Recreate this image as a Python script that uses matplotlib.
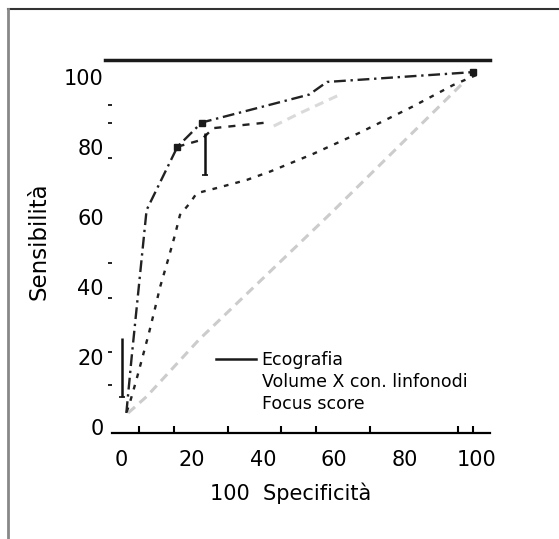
"""
ROC curves: Ecografia vs Volume X con. linfonodi vs Focus score.
Saves out.png (~559x539).
"""
import matplotlib
matplotlib.use("Agg")
import matplotlib.pyplot as plt
from matplotlib.lines import Line2D

# --- data (x = 100 - specificita, y = sensibilita) ---
eco_x = [-4.5, 104.0]
eco_y = [104.9, 104.9]

volume_x = [1.5, 3.0, 4.5, 7.2, 15.9, 22.7, 53.0, 58.0, 99.0]
volume_y = [4.0, 20.0, 35.0, 62.0, 80.1, 87.0, 95.0, 98.6, 101.4]

volume_alt_x = [15.9, 22.5, 26.0, 41.0]
volume_alt_y = [80.1, 82.0, 85.4, 87.0]

focus_x = [1.6, 2.5, 4.2, 5.8, 7.9, 9.6, 11.0, 13.3, 15.2, 16.6, 19.4, 21.3, 27.0,
           35.4, 42.0, 54.0, 67.0, 82.0, 93.5, 101.0]
focus_y = [4.3, 7.0, 13.0, 19.0, 27.0, 34.0, 40.0, 48.0, 54.9, 60.6, 64.0, 66.8, 68.3,
           70.6, 73.0, 78.0, 84.0, 91.5, 97.7, 101.0]

diag_x = [2.0, 7.2, 22.0, 59.0, 75.0, 97.0]
diag_y = [4.0, 8.7, 25.0, 61.0, 77.0, 99.0]

faint_x = [43.0, 50.4, 61.7]
faint_y = [86.0, 89.7, 95.0]

marker_x = [15.9, 22.7, 99.0]
marker_y = [80.1, 87.0, 101.4]

# vertical bars: (x, low, high)
bars = [(23.7, 72.0, 84.0), (0.2, 8.6, 25.4)]

x_ticks = [0, 20, 40, 60, 80, 100]
x_labels = ["0", "20", "40", "60", "80", "100"]
x_minor = [5, 15, 20, 30, 45, 55, 70, 95, 99]
y_ticks = [0, 20, 40, 60, 80, 100]
y_labels = ["0", "20", "40", "60", "80", "100"]
y_minor = [12, 21.5, 37, 47, 77, 87, 92]

legend_labels = ["Ecografia", "Volume X con. linfonodi", "Focus score"]

W, H = 559, 539
fig = plt.figure(figsize=(W / 100, H / 100), dpi=100)
ax = fig.add_axes([112 / W, 1 - 433 / H, (490 - 112) / W, (433 - 55) / H])
ax.set_xlim(-2.54, 103.9)
ax.set_ylim(-1.71, 106.3)

ax.plot(diag_x, diag_y, color="#cccccc", lw=2.2, ls=(0, (3, 2)))
ax.plot(faint_x, faint_y, color="#dadada", lw=2.2, ls=(0, (3, 2)))
ax.plot(eco_x, eco_y, color="#1a1a1a", lw=2.5, clip_on=False)
ax.plot(volume_x, volume_y, color="#222222", lw=1.7, ls=(0, (5, 2, 1, 2)))
ax.plot(volume_alt_x, volume_alt_y, color="#222222", lw=1.7, ls=(0, (3, 3)))
ax.plot(focus_x, focus_y, color="#222222", lw=1.7, ls=(0, (2, 3)))
ax.plot(marker_x, marker_y, ls="none", marker="s", ms=5, color="#1a1a1a")
for bx, lo, hi in bars:
    ax.vlines(bx, lo, hi, color="#111111", lw=1.8)
    ax.hlines(lo, bx - 0.8, bx + 0.8, color="#111111", lw=1.2)

# axes styling
for side in ("top", "right", "left"):
    ax.spines[side].set_visible(False)
ax.spines["bottom"].set_linewidth(1.6)
ax.set_xticks(x_ticks)
ax.set_xticklabels(x_labels)
ax.set_xticks(x_minor, minor=True)
ax.set_yticks(y_ticks)
ax.set_yticklabels(y_labels)
ax.set_yticks(y_minor, minor=True)
ax.tick_params(axis="x", which="major", length=0, pad=12, labelsize=15)
ax.tick_params(axis="x", which="minor", direction="in", length=5, width=1.5)
ax.tick_params(axis="y", which="major", length=0, pad=6, labelsize=15)
ax.tick_params(axis="y", which="minor", direction="out", length=3, width=1.2)

fig.text(291 / W, 1 - 493 / H, "100  Specificità", ha="center", va="center", fontsize=15)
fig.text(39 / W, 1 - 241 / H, "Sensibilità", ha="center", va="center",
         rotation=90, fontsize=16.5)

handles = [Line2D([], [], color="#1a1a1a", lw=1.8),
           Line2D([], [], ls="none"),
           Line2D([], [], ls="none")]
ax.legend(handles, legend_labels, loc="upper left",
          bbox_to_anchor=(88 / 378, 1 - 280 / 378), frameon=False,
          fontsize=12.5, handlelength=2.3, handletextpad=0.35, labelspacing=0.25)

# figure frame (top and left only, as in the reference)
fig.add_artist(Line2D([8 / W, 1], [1 - 9 / H, 1 - 9 / H], color="#333333", lw=1.5))
fig.add_artist(Line2D([8 / W, 8 / W], [1 - 9 / H, 0], color="#888888", lw=2))

fig.savefig("out.png", dpi=100)
